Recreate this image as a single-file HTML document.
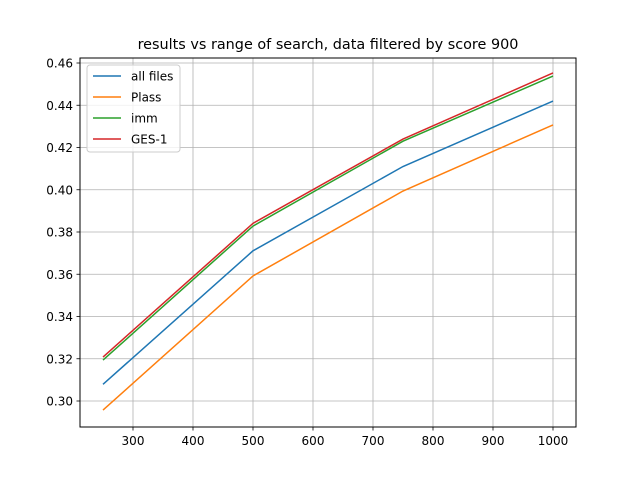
<!DOCTYPE html>
<html><head><meta charset="utf-8"><style>body{margin:0;background:#fff}svg text{font-family:"DejaVu Sans","Liberation Sans",sans-serif;fill:#000}</style></head>
<body>
<svg id="chart" width="640" height="480" xmlns="http://www.w3.org/2000/svg">
<rect width="640" height="480" fill="#fff"/>
<g id="grid"></g><g id="lines"></g>
<rect x="80" y="58" width="496" height="369" fill="none" stroke="#000" stroke-width="1"/>
<g id="ticks"></g>
<text x="328" y="49" text-anchor="middle" font-size="14.4">results vs range of search, data filtered by score 900</text>
<g id="legend"></g>
</svg>
<script>
const xValues=[250,500,750,1000];
const seriesNames=["all files","Plass","imm","GES-1"];
const allFiles=[0.3079,0.3711,0.411,0.442];
const plass=[0.2957,0.3592,0.3994,0.4307];
const imm=[0.3194,0.3828,0.423,0.4538];
const ges1=[0.3208,0.3841,0.424,0.4553];
const xTicks=[300,400,500,600,700,800,900,1000];
const yTicks=[0.30,0.32,0.34,0.36,0.38,0.40,0.42,0.44,0.46];
const colors=["#1f77b4","#ff7f0e","#2ca02c","#d62728"];
const NS="http://www.w3.org/2000/svg";
const xs=v=>133+(v-300)*0.6;
const ys=v=>401-(v-0.30)*2112.5;
function mk(t,a,p){const e=document.createElementNS(NS,t);for(const k in a)e.setAttribute(k,a[k]);p.appendChild(e);return e;}
const grid=document.getElementById('grid'),ticks=document.getElementById('ticks'),lines=document.getElementById('lines'),leg=document.getElementById('legend');
xTicks.forEach(v=>{const x=xs(v);
const g=mk('line',{x1:x,x2:x,y1:58,y2:427,stroke:'#b0b0b0','stroke-width':0.8},grid);


mk('line',{x1:x,x2:x,y1:427,y2:430.5,stroke:'#000','stroke-width':0.8},ticks);
const t=mk('text',{x:x,y:445,'text-anchor':'middle','font-size':12},ticks);t.textContent=v;

});
yTicks.forEach(v=>{const y=ys(v);
const g=mk('line',{x1:80,x2:576,y1:y,y2:y,stroke:'#b0b0b0','stroke-width':0.8},grid);


mk('line',{x1:76.5,x2:80,y1:y,y2:y,stroke:'#000','stroke-width':0.8},ticks);
const t=mk('text',{x:73,y:y+4.5,'text-anchor':'end','font-size':12},ticks);t.textContent=v.toFixed(2);

});
[allFiles,plass,imm,ges1].forEach((s,i)=>{
const p=mk('polyline',{points:s.map((v,j)=>xs(xValues[j])+','+ys(v)).join(' '),fill:'none',stroke:colors[i],'stroke-width':1.5},lines);

});
const box=mk('rect',{x:87,y:65,width:93,height:87,rx:3,fill:'#fff','fill-opacity':0.8,stroke:'#ccc'},leg);


seriesNames.forEach((n,i)=>{const y=76+i*21;
mk('line',{x1:93,x2:121,y1:y,y2:y,stroke:colors[i],'stroke-width':1.5},leg);
const t=mk('text',{x:131,y:y+4.5,'font-size':12},leg);t.textContent=n;

});
</script>
</body></html>
